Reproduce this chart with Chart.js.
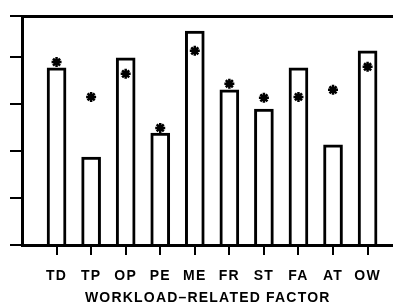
<!DOCTYPE html>
<html>
<head>
<meta charset="utf-8">
<script src="https://cdn.jsdelivr.net/npm/chart.js@4/dist/chart.umd.min.js"></script>
<style>
html,body{margin:0;padding:0;background:#fff;overflow:hidden;}
#wrap{width:393px;height:304px;position:relative;overflow:hidden;}
canvas{display:block;}
</style>
</head>
<body>
<div id="wrap"><canvas id="c" width="401" height="304"></canvas></div>
<script>
const categories = ['TD','TP','OP','PE','ME','FR','ST','FA','AT','OW'];
const barValues = [3.77, 1.87, 3.98, 2.38, 4.55, 3.30, 2.89, 3.77, 2.13, 4.13];
const starValues = [3.89, 3.15, 3.64, 2.49, 4.13, 3.43, 3.13, 3.15, 3.30, 3.79];
const yTicks = [0, 1, 2, 3, 4, 4.87];
const xTitle = 'WORKLOAD\u2013RELATED FACTOR';

const barData = barValues.map((v, i) => ({x: i, y: v}));
const starData = starValues.map((v, i) => ({x: i, y: v}));

const spacing = {
  id: 'spacing',
  beforeDraw(chart) { chart.ctx.letterSpacing = '1.2px'; },
  afterDraw(chart) { chart.ctx.letterSpacing = '0px'; }
};

function noPad(s) { s.paddingLeft = 0; s.paddingRight = 0; }

new Chart(document.getElementById('c'), {
  type: 'bar',
  plugins: [spacing],
  data: {
    datasets: [
      {
        type: 'scatter',
        data: starData,
        pointStyle: 'star',
        radius: 5,
        borderWidth: 2.5,
        borderColor: '#000',
        backgroundColor: '#000',
        order: 0
      },
      {
        type: 'bar',
        data: barData,
        backgroundColor: '#fff',
        borderColor: '#000',
        borderWidth: 3,
        barThickness: 19,
        borderSkipped: 'bottom',
        order: 1
      }
    ]
  },
  options: {
    responsive: false,
    animation: false,
    layout: {padding: 0},
    plugins: {legend: {display: false}, tooltip: {enabled: false}},
    scales: {
      x: {
        type: 'linear',
        position: 'bottom',
        offset: false,
        min: -1,
        max: 9.75,
        afterBuildTicks: (a) => { a.ticks = categories.map((_, i) => ({value: i})); },
        afterFit: (s) => { s.height = 59; noPad(s); },
        ticks: {
          callback: (v) => categories[v],
          color: '#000',
          font: {family: 'Liberation Sans', weight: 'bold', size: 14},
          padding: 13,
          maxRotation: 0,
          autoSkip: false
        },
        grid: {offset: false, drawOnChartArea: false, drawTicks: true, tickLength: 10, color: '#000', lineWidth: 2},
        border: {display: true, color: '#000', width: 3},
        title: {
          display: true,
          text: xTitle,
          color: '#000',
          font: {family: 'Liberation Sans', weight: 'bold', size: 14},
          padding: {top: 0, bottom: -3}
        }
      },
      x2: {
        type: 'linear',
        position: 'top',
        offset: false,
        min: -1,
        max: 9.75,
        afterFit: (s) => { s.height = 16; noPad(s); },
        ticks: {display: false},
        grid: {display: false, drawTicks: false},
        border: {display: true, color: '#000', width: 3}
      },
      y: {
        min: 0,
        max: 4.87,
        afterBuildTicks: (a) => { a.ticks = yTicks.map(v => ({value: v})); },
        afterFit: (s) => { s.width = 22; },
        ticks: {display: false},
        grid: {drawOnChartArea: false, drawTicks: true, tickLength: 12, color: '#000', lineWidth: 2},
        border: {display: true, color: '#000', width: 3}
      }
    }
  }
});
</script>
</body>
</html>
